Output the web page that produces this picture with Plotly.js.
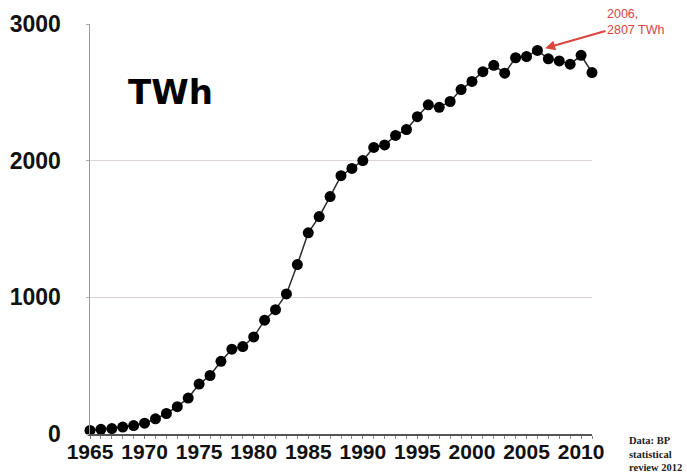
<!DOCTYPE html>
<html>
<head>
<meta charset="utf-8">
<script src="https://cdn.plot.ly/plotly-3.0.1.min.js"></script>
<style>html,body{margin:0;padding:0;background:#fff;}#chart{width:687px;height:474px;}</style>
</head>
<body>
<div id="chart"></div>
<script>
// World nuclear electricity generation, TWh
const years = [1965,1966,1967,1968,1969,1970,1971,1972,1973,1974,1975,1976,1977,1978,1979,
  1980,1981,1982,1983,1984,1985,1986,1987,1988,1989,1990,1991,1992,1993,1994,1995,1996,1997,
  1998,1999,2000,2001,2002,2003,2004,2005,2006,2007,2008,2009,2010,2011];
const twh = [26,34,40,51,62,79,111,150,200,263,365,428,532,621,640,
  710,833,910,1025,1240,1472,1591,1737,1890,1943,2001,2097,2115,2185,2228,2322,2409,2390,
  2433,2520,2580,2651,2698,2640,2753,2762,2807,2745,2730,2706,2771,2645];
const yTicks = [0,1000,2000,3000];
const xTicks = [1965,1970,1975,1980,1985,1990,1995,2000,2005,2010];
const unitLabel = 'TWh';
const sourceNote = 'Data: BP<br>statistical<br>review 2012';

const peakIdx = twh.indexOf(Math.max(...twh));

const trace = {
  x: years, y: twh, type: 'scatter', mode: 'lines+markers',
  line: {color: '#2a2a2a', width: 1.5},
  marker: {color: '#000000', size: 11},
  cliponaxis: false, hoverinfo: 'skip'
};

const layout = {
  width: 687, height: 474,
  margin: {l: 90, r: 95, t: 24, b: 40},
  paper_bgcolor: '#ffffff', plot_bgcolor: '#ffffff',
  showlegend: false,
  xaxis: {
    range: [1965, 2011], tickvals: xTicks, ticktext: xTicks.map(String),
    showgrid: false, zeroline: false,
    showline: true, linecolor: '#555555', linewidth: 1.5,
    ticks: 'outside', ticklen: 3, tickcolor: '#777777', tickwidth: 1,
    minor: {dtick: 1, tick0: 1965, ticks: 'outside', ticklen: 3, tickcolor: '#888888', showgrid: false},
    tickfont: {family: 'Liberation Sans, Arial, sans-serif', size: 21, color: '#111111', weight: 'bold'},
    ticklabelstandoff: -5
  },
  yaxis: {
    range: [0, 3000], tickvals: yTicks, ticktext: yTicks.map(String),
    showgrid: true, gridcolor: '#ddd6d2', gridwidth: 1.5,
    zeroline: false,
    showline: true, linecolor: '#999999', linewidth: 1.5,
    ticks: 'outside', ticklen: 3, tickcolor: '#aaaaaa',
    tickfont: {family: 'Liberation Sans, Arial, sans-serif', size: 23, color: '#111111', weight: 'bold'},
    ticklabelstandoff: 20
  },
  annotations: [
    {
      xref: 'paper', yref: 'paper', x: 0.16, y: 0.835,
      text: unitLabel, showarrow: false, xanchor: 'center', yanchor: 'middle',
      font: {family: 'DejaVu Sans, sans-serif', size: 34, color: '#000000', weight: 'bold'}
    },
    {
      x: years[peakIdx], y: twh[peakIdx], xref: 'x', yref: 'y',
      text: years[peakIdx] + ',<br>' + twh[peakIdx] + ' TWh',
      align: 'left', showarrow: true, arrowhead: 2, arrowsize: 1, arrowwidth: 2,
      arrowcolor: '#d9453f', standoff: 8, ax: 98, ay: -28,
      font: {family: 'Liberation Sans, Arial, sans-serif', size: 12.5, color: '#d9453f'}
    },
    {
      xref: 'paper', yref: 'paper', x: 1.07, y: 0.002, xanchor: 'left', yanchor: 'top',
      text: '<b>' + sourceNote + '</b>', showarrow: false, align: 'left',
      font: {family: 'Liberation Serif, Times New Roman, serif', size: 10.5, color: '#222222'}
    }
  ]
};

Plotly.newPlot('chart', [trace], layout, {displayModeBar: false, staticPlot: true});
</script>
</body>
</html>
